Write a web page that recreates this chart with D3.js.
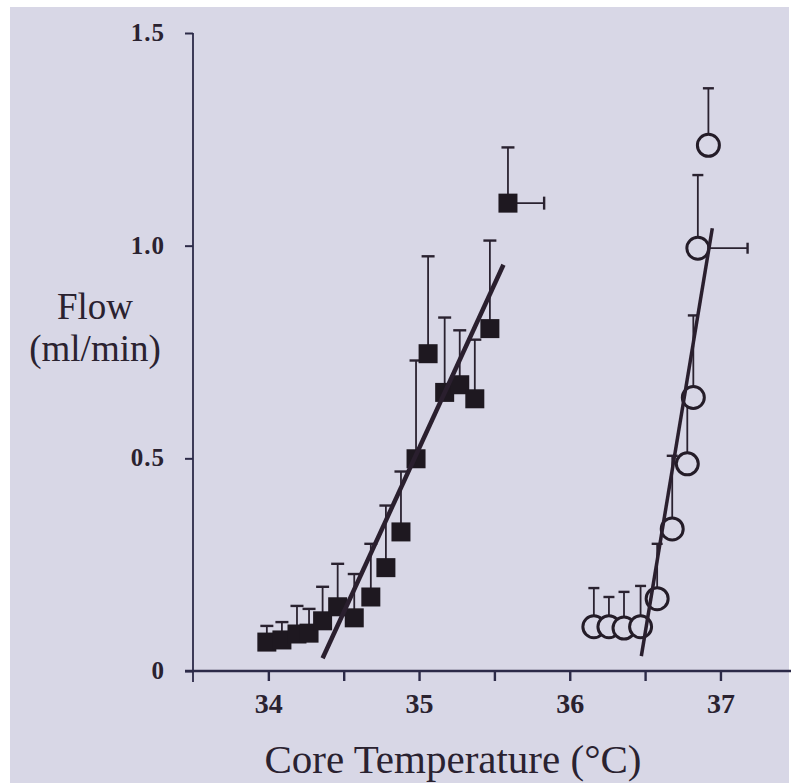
<!DOCTYPE html>
<html>
<head>
<meta charset="utf-8">
<script src="https://cdn.jsdelivr.net/npm/d3@7"></script>
<style>
  html, body { margin: 0; padding: 0; background: #ffffff; }
  svg { display: block; }
</style>
</head>
<body>
<svg id="chart" width="791" height="783"></svg>
<script>
// closed squares
const sqTemp = [33.99, 34.09, 34.19, 34.27, 34.36, 34.46, 34.57, 34.68, 34.78, 34.88, 34.98, 35.06, 35.17, 35.27, 35.37, 35.47, 35.59];
const sqFlow = [0.068, 0.073, 0.087, 0.089, 0.118, 0.151, 0.125, 0.174, 0.243, 0.327, 0.499, 0.746, 0.655, 0.673, 0.640, 0.805, 1.100];
const sqErr  = [0.038, 0.042, 0.066, 0.057, 0.080, 0.101, 0.103, 0.125, 0.146, 0.142, 0.231, 0.229, 0.176, 0.128, 0.139, 0.207, 0.131];
const sqErrX = [0, 0, 0, 0, 0, 0, 0, 0, 0, 0, 0, 0, 0, 0, 0, 0, 0.24];
const sqFit  = [[34.36, 0.030], [35.56, 0.955]];

// open circles
const ciTemp = [36.16, 36.26, 36.36, 36.47, 36.58, 36.68, 36.78, 36.82, 36.85, 36.92];
const ciFlow = [0.104, 0.104, 0.101, 0.104, 0.170, 0.334, 0.487, 0.643, 0.994, 1.236];
const ciErr  = [0.091, 0.070, 0.085, 0.096, 0.129, 0.172, 0.161, 0.193, 0.172, 0.134];
const ciErrX = [0, 0, 0, 0, 0, 0, 0, 0, 0.33, 0];
const ciFit  = [[36.475, 0.035], [36.946, 1.041]];

const xTicks = [34, 34.5, 35, 35.5, 36, 36.5, 37];
const yTicks = [0, 0.5, 1.0, 1.5];
const yTickLabels = ["0", "0.5", "1.0", "1.5"];

const ink = "#2a2230";
const axisInk = "#2c2a48";
const paper = "#d8d7e6";
const serif = "'Liberation Serif', 'DejaVu Serif', serif";

const svg = d3.select("#chart");

// scanned page
svg.append("rect")
    .attr("x", 10).attr("y", 7)
    .attr("width", 779).attr("height", 776)
    .attr("fill", paper);

const x = d3.scaleLinear().domain([33.5, 37.5]).range([193, 193 + 4 * 150.7]);
const y = d3.scaleLinear().domain([0, 1.5]).range([671, 33]);

// axes
const yAxis = svg.append("g")
    .attr("transform", "translate(" + x(33.5) + ",0)")
    .call(d3.axisLeft(y).tickValues(yTicks).tickSize(8).tickPadding(20)
        .tickFormat(function(d, i) { return yTickLabels[i]; }));
yAxis.select(".domain").remove();
yAxis.selectAll("line").attr("stroke", axisInk).attr("stroke-width", 2);
yAxis.selectAll("text")
    .attr("fill", ink)
    .attr("dy", "0.3em")
    .style("font-family", serif)
    .style("font-weight", "bold")
    .style("font-size", "25px")
    .style("letter-spacing", "1px");

svg.append("line")
    .attr("x1", x(33.5)).attr("x2", x(33.5))
    .attr("y1", y(1.5)).attr("y2", y(0) + 11)
    .attr("stroke", axisInk).attr("stroke-width", 1.8);

const xAxis = svg.append("g")
    .attr("transform", "translate(0," + y(0) + ")")
    .call(d3.axisBottom(x).tickValues(xTicks).tickSize(10).tickPadding(12)
        .tickFormat(function(d) { return Number.isInteger(d) ? d : ""; }));
xAxis.select(".domain").remove();
xAxis.selectAll("line").attr("stroke", axisInk).attr("stroke-width", 2.4);
xAxis.selectAll("text")
    .attr("fill", ink)
    .style("font-family", serif)
    .style("font-weight", "bold")
    .style("font-size", "28px");

svg.append("line")
    .attr("x1", x(33.5) - 8).attr("x2", 791)
    .attr("y1", y(0)).attr("y2", y(0))
    .attr("stroke", axisInk).attr("stroke-width", 2.4);

// axis titles
svg.append("text")
    .attr("x", 453).attr("y", 773)
    .attr("text-anchor", "middle")
    .attr("fill", ink)
    .style("font-family", serif)
    .style("font-size", "41px")
    .text("Core Temperature (°C)");

svg.append("text")
    .attr("x", 95).attr("y", 319)
    .attr("text-anchor", "middle")
    .attr("fill", ink)
    .style("font-family", serif)
    .style("font-size", "37px")
    .text("Flow");
svg.append("text")
    .attr("x", 95).attr("y", 361)
    .attr("text-anchor", "middle")
    .attr("fill", ink)
    .style("font-family", serif)
    .style("font-size", "37px")
    .text("(ml/min)");

const sq = sqTemp.map(function(t, i) { return { t: t, f: sqFlow[i], e: sqErr[i], ex: sqErrX[i] }; });
const ci = ciTemp.map(function(t, i) { return { t: t, f: ciFlow[i], e: ciErr[i], ex: ciErrX[i] }; });

function errorBars(data, cap) {
    const g = svg.append("g").attr("stroke", ink).attr("stroke-width", 1.8);
    g.selectAll("line.v").data(data).enter().append("line")
        .attr("x1", function(d) { return x(d.t); })
        .attr("x2", function(d) { return x(d.t); })
        .attr("y1", function(d) { return y(d.f); })
        .attr("y2", function(d) { return y(d.f + d.e); });
    g.selectAll("line.c").data(data).enter().append("line")
        .attr("x1", function(d) { return x(d.t) - cap; })
        .attr("x2", function(d) { return x(d.t) + cap; })
        .attr("y1", function(d) { return y(d.f + d.e); })
        .attr("y2", function(d) { return y(d.f + d.e); })
        .attr("stroke-width", 2.4);
    const hx = data.filter(function(d) { return d.ex > 0; });
    g.selectAll("line.h").data(hx).enter().append("line")
        .attr("x1", function(d) { return x(d.t); })
        .attr("x2", function(d) { return x(d.t + d.ex); })
        .attr("y1", function(d) { return y(d.f); })
        .attr("y2", function(d) { return y(d.f); });
    g.selectAll("line.hc").data(hx).enter().append("line")
        .attr("x1", function(d) { return x(d.t + d.ex); })
        .attr("x2", function(d) { return x(d.t + d.ex); })
        .attr("y1", function(d) { return y(d.f) - cap; })
        .attr("y2", function(d) { return y(d.f) + cap; })
        .attr("stroke-width", 2.4);
}

errorBars(sq, 6.5);
errorBars(ci, 5.5);

// squares
const s = 19;
svg.append("g").selectAll("rect").data(sq).enter().append("rect")
    .attr("x", function(d) { return x(d.t) - s / 2; })
    .attr("y", function(d) { return y(d.f) - s / 2; })
    .attr("width", s).attr("height", s)
    .attr("fill", "#1e1820");

// circles
svg.append("g").selectAll("circle").data(ci).enter().append("circle")
    .attr("cx", function(d) { return x(d.t); })
    .attr("cy", function(d) { return y(d.f); })
    .attr("r", 11)
    .attr("fill", paper)
    .attr("stroke", "#241c28")
    .attr("stroke-width", 3);

// regression lines
const line = d3.line().x(function(d) { return x(d[0]); }).y(function(d) { return y(d[1]); });
svg.append("path").attr("d", line(sqFit))
    .attr("stroke", "#2a1f2e").attr("stroke-width", 4.5).attr("fill", "none");
svg.append("path").attr("d", line(ciFit))
    .attr("stroke", "#2a1f2e").attr("stroke-width", 3.5).attr("fill", "none");
</script>
</body>
</html>
